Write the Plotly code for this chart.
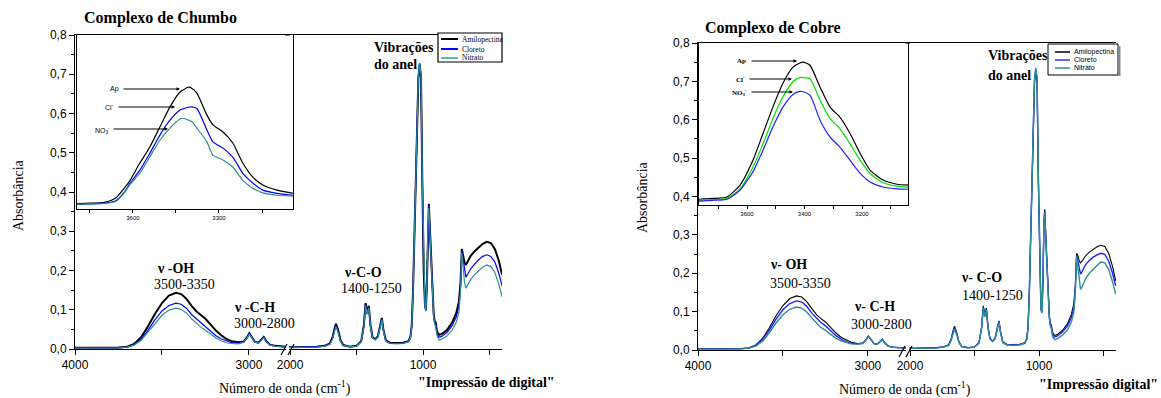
import plotly.graph_objects as go

W, H = 1161, 398
SERIF = "Liberation Serif, Times New Roman, serif"
SANS = "Liberation Sans, Arial, sans-serif"

# ---------------- data ----------------
wn = [4000, 3900, 3800, 3750, 3700, 3660, 3620, 3580, 3540, 3500,
      3460, 3420, 3390, 3360, 3330, 3300, 3280, 3250, 3220, 3190,
      3160, 3130, 3100, 3060, 3030, 3010, 2998, 2985, 2965, 2945,
      2925, 2915, 2900, 2880, 2850, 2800, 2750,
      2050, 2000, 1900, 1800, 1740, 1700, 1680, 1665, 1655, 1640,
      1620, 1600, 1550, 1500, 1465, 1445, 1432, 1420, 1408, 1395,
      1380, 1360, 1340, 1322, 1310, 1298, 1280, 1250, 1200, 1150,
      1110, 1095, 1085, 1075, 1065, 1055, 1045, 1035, 1025, 1015,
      1005, 995, 985, 978, 970, 962, 956, 950, 940, 930,
      920, 912, 905, 895, 880, 860, 820, 780, 750, 730,
      718, 708, 698, 688, 678, 665, 640, 610, 580, 550,
      520, 490, 460, 430, 405]

pb_ap = [.003, .003, .003, .004, .006, .013, .030, .058, .090, .117,
         .136, .143, .140, .128, .110, .095, .088, .077, .062, .047,
         .035, .026, .020, .017, .019, .030, .040, .032, .018, .016,
         .026, .031, .020, .011, .008, .005, .004,
         .004, .004, .005, .006, .008, .014, .030, .052, .064, .050,
         .022, .010, .006, .008, .020, .060, .117, .092, .110, .060,
         .030, .025, .032, .060, .079, .050, .022, .016, .015, .016,
         .020, .030, .060, .150, .300, .450, .600, .690, .726, .690,
         .420, .200, .110, .100, .180, .340, .370, .320, .230, .150,
         .090, .070, .068, .045, .036, .038, .048, .068, .092, .120,
         .170, .255, .240, .220, .214, .222, .238, .250, .260, .268,
         .273, .270, .255, .225, .189]
pb_cl = [.002, .002, .003, .003, .005, .011, .025, .048, .075, .097,
         .111, .117, .114, .104, .088, .076, .069, .058, .045, .034,
         .026, .020, .016, .015, .018, .029, .039, .031, .018, .016,
         .025, .030, .019, .011, .008, .005, .004,
         .004, .004, .005, .006, .008, .013, .028, .049, .060, .047,
         .020, .009, .006, .008, .019, .058, .113, .090, .108, .058,
         .029, .024, .031, .058, .077, .048, .021, .015, .014, .015,
         .019, .029, .058, .148, .300, .452, .603, .693, .728, .692,
         .425, .203, .108, .098, .178, .335, .365, .315, .225, .146,
         .086, .066, .064, .040, .030, .032, .042, .060, .082, .108,
         .160, .250, .225, .195, .183, .190, .205, .217, .228, .236,
         .240, .236, .222, .193, .160]
pb_no3 = [.002, .002, .003, .003, .005, .010, .022, .043, .066, .086,
          .099, .104, .101, .092, .077, .065, .057, .048, .037, .028,
          .021, .016, .014, .013, .017, .028, .038, .030, .017, .015,
          .024, .029, .018, .010, .007, .005, .004,
          .004, .004, .004, .005, .007, .012, .026, .046, .057, .044,
          .019, .009, .006, .007, .018, .056, .110, .088, .105, .056,
          .028, .023, .030, .056, .075, .046, .020, .014, .013, .014,
          .018, .028, .057, .147, .300, .454, .605, .695, .729, .694,
          .428, .205, .106, .096, .176, .330, .360, .310, .220, .142,
          .082, .062, .058, .034, .023, .025, .033, .049, .068, .094,
          .150, .245, .205, .170, .155, .162, .178, .190, .200, .209,
          .214, .210, .195, .165, .133]

cu_ap = [.003, .003, .003, .004, .006, .013, .030, .058, .090, .116,
         .134, .141, .138, .126, .108, .091, .083, .073, .059, .045,
         .034, .026, .020, .017, .018, .028, .036, .030, .017, .015,
         .023, .028, .018, .010, .007, .005, .004,
         .004, .004, .005, .006, .008, .014, .030, .052, .062, .048,
         .021, .010, .006, .008, .020, .060, .115, .090, .109, .060,
         .030, .024, .031, .060, .076, .048, .021, .015, .014, .015,
         .019, .030, .060, .150, .300, .450, .600, .695, .728, .700,
         .440, .210, .110, .100, .170, .330, .367, .320, .230, .150,
         .090, .070, .066, .046, .038, .040, .050, .068, .092, .120,
         .170, .252, .245, .232, .227, .232, .245, .255, .263, .269,
         .273, .270, .252, .218, .180]
cu_cl = [.003, .003, .003, .003, .005, .012, .027, .052, .081, .105,
         .121, .128, .125, .114, .096, .081, .073, .063, .050, .038,
         .029, .022, .018, .016, .018, .027, .036, .029, .017, .015,
         .023, .028, .018, .010, .007, .005, .004,
         .004, .004, .005, .006, .008, .013, .028, .049, .058, .045,
         .020, .009, .006, .008, .019, .058, .112, .088, .107, .058,
         .029, .023, .030, .058, .074, .046, .020, .014, .013, .014,
         .018, .029, .058, .150, .300, .452, .605, .700, .732, .705,
         .445, .212, .108, .098, .168, .325, .362, .315, .225, .146,
         .086, .066, .062, .042, .034, .036, .046, .062, .084, .110,
         .162, .248, .230, .210, .198, .205, .222, .233, .242, .248,
         .252, .249, .232, .200, .167]
cu_no3 = [.002, .002, .003, .003, .005, .010, .023, .045, .071, .092,
          .106, .112, .109, .099, .083, .068, .060, .051, .040, .031,
          .024, .019, .016, .015, .017, .027, .035, .029, .016, .015,
          .022, .027, .017, .010, .007, .005, .004,
          .004, .004, .004, .005, .007, .012, .026, .046, .055, .042,
          .019, .009, .006, .007, .018, .056, .109, .086, .104, .056,
          .028, .022, .029, .056, .072, .044, .019, .013, .012, .013,
          .017, .028, .057, .150, .300, .455, .610, .705, .735, .710,
          .450, .215, .106, .096, .166, .320, .357, .310, .220, .142,
          .082, .062, .057, .036, .027, .029, .038, .052, .072, .098,
          .152, .244, .210, .178, .158, .165, .185, .200, .210, .222,
          .230, .227, .210, .178, .146]

# insets (values in the main-panel absorbance scale)
pb_in_wn = [3795, 3750, 3700, 3660, 3630, 3610, 3576, 3541, 3506, 3471,
            3436, 3425, 3408, 3394, 3377, 3342, 3321, 3286, 3252, 3217,
            3182, 3147, 3098, 3042]
pb_in_ap = [.371, .372, .374, .385, .410, .430, .474, .515, .566, .617,
            .655, .660, .667, .664, .652, .596, .571, .553, .525, .474,
            .438, .418, .405, .397]
pb_in_cl = [.369, .370, .372, .378, .400, .423, .456, .499, .545, .583,
            .609, .612, .616, .617, .613, .558, .528, .512, .489, .448,
            .423, .405, .397, .392]
pb_in_no3 = [.369, .370, .371, .376, .398, .420, .448, .490, .532, .563,
             .586, .588, .584, .579, .563, .528, .494, .482, .464, .430,
             .410, .398, .392, .390]

cu_in_wn = [3767, 3720, 3670, 3624, 3579, 3544, 3510, 3475, 3440, 3416,
            3405, 3381, 3346, 3311, 3277, 3242, 3207, 3172, 3127, 3078,
            3040]
cu_in_ap = [.393, .395, .399, .430, .495, .565, .633, .695, .737, .748,
            .750, .742, .685, .633, .607, .565, .513, .469, .443, .432,
            .430]
cu_in_cl = [.390, .392, .395, .420, .477, .538, .603, .660, .699, .710,
            .710, .707, .651, .603, .577, .538, .495, .460, .436, .427,
            .424]
cu_in_no3 = [.388, .390, .393, .417, .465, .521, .581, .633, .666, .674,
             .673, .664, .599, .555, .529, .495, .461, .438, .425, .420,
             .419]

series_names = ["Amilopectina", "Cloreto", "Nitrato"]
y_ticks = [0.0, 0.1, 0.2, 0.3, 0.4, 0.5, 0.6, 0.7, 0.8]
y_labels = ["0,0", "0,1", "0,2", "0,3", "0,4", "0,5", "0,6", "0,7", "0,8"]
y_minor = [0.05, 0.15, 0.25, 0.35, 0.45, 0.55, 0.65, 0.75]

# ---------------- helpers ----------------
def px(x):
    return x / W

def py(y):
    return 1 - y / H

BLACK = "#000000"
BLUE = "#0000ff"
TEAL = "#2f9090"
GREEN = "#00e000"

fig = go.Figure()

def add_series(x, ys, xa, ya, colors, widths):
    for y, c, w, n in zip(ys, colors, widths, series_names):
        fig.add_trace(go.Scatter(x=x, y=y, mode="lines", name=n,
                                 line=dict(color=c, width=w),
                                 xaxis=xa, yaxis=ya, showlegend=False,
                                 hoverinfo="skip"))

# Chumbo main (two segments of broken axis)
for xa in ("x", "x2"):
    add_series(wn, [pb_ap, pb_cl, pb_no3], xa, "y",
               [BLACK, BLUE, TEAL], [2.0, 1.2, 1.2])
# Cobre main
for xa in ("x4", "x5"):
    add_series(wn, [cu_ap, cu_cl, cu_no3], xa, "y3",
               [BLACK, "#2020ff", TEAL], [1.1, 1.4, 1.4])

# insets
for y, c in zip([pb_in_ap, pb_in_cl, pb_in_no3], [BLACK, BLUE, TEAL]):
    fig.add_trace(go.Scatter(x=pb_in_wn, y=y, mode="lines", showlegend=False,
                             line=dict(color=c, width=1.2, shape="spline", smoothing=0.6),
                             xaxis="x3", yaxis="y2", hoverinfo="skip"))
for y, c in zip([cu_in_ap, cu_in_cl, cu_in_no3], [BLACK, GREEN, "#2020ff"]):
    fig.add_trace(go.Scatter(x=cu_in_wn, y=y, mode="lines", showlegend=False,
                             line=dict(color=c, width=1.2, shape="spline", smoothing=0.6),
                             xaxis="x6", yaxis="y4", hoverinfo="skip"))

base = dict(showgrid=False, zeroline=False, showline=True, linecolor="black",
            linewidth=1, ticks="outside", tickcolor="black", tickwidth=1,
            automargin=False,
            tickfont=dict(family=SANS, size=12, color="black"))

def yaxis_main(top, bottom, anchor):
    d = dict(base)
    d.update(domain=[py(bottom), py(top)], range=[0, 0.8], anchor=anchor,
             tickmode="array", tickvals=y_ticks, ticktext=y_labels, ticklen=5,
             minor=dict(tickmode="array", tickvals=y_minor, ticks="outside",
                        ticklen=3, tickcolor="black"))
    return d

def yaxis_right(over, anchor):
    return dict(overlaying=over, anchor=anchor, side="right", range=[0, 0.8],
                showgrid=False, zeroline=False, showline=True, linecolor="black",
                linewidth=1, ticks="inside", ticklen=4, tickcolor="black",
                tickmode="array", tickvals=y_ticks, showticklabels=False,
                automargin=False)

def xseg(l, r, rng, anchor, vals, txt):
    d = dict(base)
    d.update(domain=[px(l), px(r)], range=rng, anchor=anchor, mirror=True,
             tickmode="array", tickvals=vals, ticktext=txt, ticklen=5)
    return d

def inset_x(l, r, rng, anchor, vals, txt):
    d = dict(base)
    d.update(domain=[px(l), px(r)], range=rng, anchor=anchor, mirror=True,
             tickmode="array", tickvals=vals, ticktext=txt, ticklen=3,
             tickfont=dict(family=SANS, size=6, color="black"))
    return d

def inset_y(top, bottom, rng, anchor):
    return dict(domain=[py(bottom), py(top)], range=rng, anchor=anchor,
                showgrid=False, zeroline=False, showline=True, mirror=True,
                linecolor="black", linewidth=1, ticks="", showticklabels=False,
                automargin=False)

layout = dict(
    width=W, height=H, autosize=False,
    margin=dict(l=0, r=0, t=0, b=0, pad=0, autoexpand=False),
    paper_bgcolor="white", plot_bgcolor="rgba(0,0,0,0)", showlegend=False,
    xaxis=xseg(75, 286, [4000, 2787], "y", [4000, 3500, 3000], ["4000", "", "3000"]),
    xaxis2=xseg(289, 502, [2008, 406], "y", [2000, 1500, 1000, 500], ["2000", "", "1000", ""]),
    yaxis=yaxis_main(35, 349, "x"),
    yaxis5=yaxis_right("y", "x2"),
    xaxis3=inset_x(77, 293, [3795, 3042], "y2", [3750, 3600, 3450, 3300, 3150],
                   ["", "3600", "", "3300", ""]),
    yaxis2=inset_y(35, 209, [0.357, 0.8], "x3"),
    xaxis4=xseg(698, 906, [4000, 2776], "y3", [4000, 3500, 3000], ["4000", "", "3000"]),
    xaxis5=xseg(909, 1116, [2008, 403], "y3", [2000, 1500, 1000, 500], ["2000", "", "1000", ""]),
    yaxis3=yaxis_main(43, 350, "x4"),
    yaxis6=yaxis_right("y3", "x5"),
    xaxis6=inset_x(699, 908, [3767, 3040], "y4", [3700, 3600, 3500, 3400, 3300, 3200, 3100],
                   ["", "3600", "", "3400", "", "3200", ""]),
    yaxis4=inset_y(43, 205, [0.378, 0.8], "x6"),
)
fig.update_layout(**layout)

shapes = []
def seg(x0, y0, x1, y1, color="black", width=1):
    shapes.append(dict(type="line", xref="paper", yref="paper",
                       x0=px(x0), y0=py(y0), x1=px(x1), y1=py(y1),
                       line=dict(color=color, width=width)))

# close the small top-frame gaps at the axis breaks
seg(285, 35, 290, 35)
seg(905, 43, 910, 43)
# axis-break marks
seg(281, 355, 287, 344, width=1.2)
seg(288, 355, 294, 344, width=1.2)
seg(899, 357, 905, 346, width=1.2)
seg(906, 357, 912, 346, width=1.2)

# legend boxes (drawn manually to match compact original)
shapes.append(dict(type="rect", xref="paper", yref="paper", x0=px(438), x1=px(502),
                   y0=py(62), y1=py(33), line=dict(color="black", width=1.2),
                   fillcolor="white", layer="above"))
shapes.append(dict(type="rect", xref="paper", yref="paper", x0=px(1048), x1=px(1118),
                   y0=py(75), y1=py(44), line=dict(color="black", width=1),
                   fillcolor="white", layer="above"))
seg(1119.5, 46, 1119.5, 76, color="#888888", width=2)

ann = []
def text(x, y, s, size=14, family=SERIF, anchor="left", angle=0, color="black"):
    ann.append(dict(x=px(x), y=py(y), xref="paper", yref="paper", text=s,
                    showarrow=False, xanchor=anchor, yanchor="middle",
                    textangle=angle, font=dict(family=family, size=size, color=color)))

def arrow(x_tail, x_head, y):
    ann.append(dict(x=px(x_head), y=py(y), xref="paper", yref="paper", text="",
                    showarrow=True, ax=x_tail - x_head, ay=0, arrowhead=2,
                    arrowsize=0.7, arrowwidth=1, arrowcolor="black",
                    standoff=0, startstandoff=0))

leg_colors_pb = [BLACK, BLUE, "#5fb8b8"]
for i, (n, c) in enumerate(zip(series_names, leg_colors_pb)):
    yy = [39, 49, 58][i]
    shapes.append(dict(type="line", xref="paper", yref="paper", x0=px(441), x1=px(458),
                       y0=py(yy), y1=py(yy), line=dict(color=c, width=2), layer="above"))
    text(460, yy, n, size=7.5, family=SERIF)
leg_colors_cu = [BLACK, "#3030ff", TEAL]
for i, (n, c) in enumerate(zip(series_names, leg_colors_cu)):
    yy = [52, 60, 68][i]
    shapes.append(dict(type="line", xref="paper", yref="paper", x0=px(1055), x1=px(1070),
                       y0=py(yy), y1=py(yy), line=dict(color=c, width=1.5), layer="above"))
    text(1072, yy, n, size=7, family=SANS)

# Chumbo texts
text(82, 18, "<b>Complexo de Chumbo</b>", size=16)
text(19, 195, "Absorbância", size=14, anchor="center", angle=-90)
text(155, 268, "<b>ν -OH</b>")
text(152, 284, "3500-3350")
text(232, 307, "<b>ν -C-H</b>")
text(232, 323, "3000-2800")
text(342, 272, "<b>ν-C-O</b>")
text(339, 288, "1400-1250")
text(372, 47, "<b>Vibrações</b>")
text(372, 64, "<b>do anel</b>")
text(217, 387, "Número de onda (cm<sup>-1</sup>)")
text(416, 382, "<b>\"Impressão de digital\"</b>")
text(121, 89, "Ap", size=7, family=SANS, anchor="right")
text(116, 107, "Cl<sup>-</sup>", size=7, family=SANS, anchor="right")
text(112, 130, "NO<sub>3</sub><sup>-</sup>", size=7, family=SANS, anchor="right")
arrow(122, 180, 89)
arrow(117, 175, 107)
arrow(112, 168, 129)

# Cobre texts
text(703, 28, "<b>Complexo de Cobre</b>", size=16)
text(642, 197, "Absorbância", size=14, anchor="center", angle=-90)
text(768, 264, "<b>ν- OH</b>")
text(768, 283, "3500-3350")
text(852, 306, "<b>ν- C-H</b>")
text(849, 324, "3000-2800")
text(959, 277, "<b>ν- C-O</b>")
text(960, 295, "1400-1250")
text(986, 56, "<b>Vibrações</b>")
text(986, 75, "<b>do anel</b>")
text(837, 388, "Número de onda (cm<sup>-1</sup>)")
text(1037, 384, "<b>\"Impressão digital\"</b>")
text(748, 61, "<b>Ap</b>", size=7, family=SERIF, anchor="right")
text(747, 79, "<b>Cl<sup>-</sup></b>", size=7, family=SERIF, anchor="right")
text(749, 92, "<b>NO<sub>3</sub><sup>-</sup></b>", size=7, family=SERIF, anchor="right")
arrow(750, 797, 61)
arrow(748, 792, 79)
arrow(750, 793, 92)

fig.update_layout(shapes=shapes, annotations=ann)
fig.write_html("out.html")
